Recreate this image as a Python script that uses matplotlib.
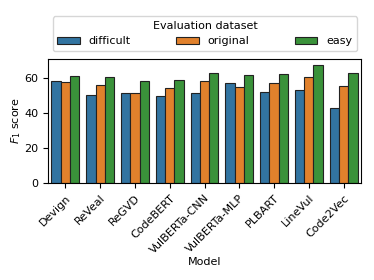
import matplotlib
matplotlib.use("Agg")
import matplotlib.pyplot as plt
import numpy as np

plt.rcParams["font.size"] = 8
plt.rcParams["axes.linewidth"] = 0.8

# F1 scores
models = ["Devign", "ReVeal", "ReGVD", "CodeBERT", "VulBERTa-CNN",
          "VulBERTa-MLP", "PLBART", "LineVul", "Code2Vec"]
difficult = [58.6, 50.4, 51.4, 50.2, 51.4, 57.3, 52.0, 53.3, 42.9]
original = [58.2, 56.0, 51.4, 54.4, 58.4, 55.4, 57.3, 60.7, 55.8]
easy = [61.3, 60.7, 58.4, 59.4, 63.2, 62.1, 62.3, 67.8, 63.0]
series = ["difficult", "original", "easy"]
colors = ["#3274a1", "#e1812c", "#3a923a"]

fig = plt.figure(figsize=(3.74, 2.8), dpi=100)
ax = fig.add_axes([48 / 374, 1 - 183 / 280, 313 / 374, 124 / 280])

x = np.arange(len(models))
w = 0.8 / 3
for i, (vals, name) in enumerate(zip([difficult, original, easy], series)):
    ax.bar(x + (i - 1) * w, vals, width=w, color=colors[i],
           edgecolor="#222222", linewidth=0.8, label=name)

ax.set_xticks(x)
ax.set_xticklabels(models, rotation=45, ha="right", rotation_mode="anchor")
ax.set_xlim(-0.5, len(models) - 0.5)
ax.set_yticks([0, 20, 40, 60])
ax.set_ylabel("$F_1$ score", labelpad=1)
ax.set_xlabel("Model", labelpad=1)

ax.legend(title="Evaluation dataset", ncol=3, loc="lower left",
          bbox_to_anchor=(0.016, 1.065, 0.971, 0.3), mode="expand",
          borderaxespad=0.0)

plt.savefig("out.png", dpi=100)
